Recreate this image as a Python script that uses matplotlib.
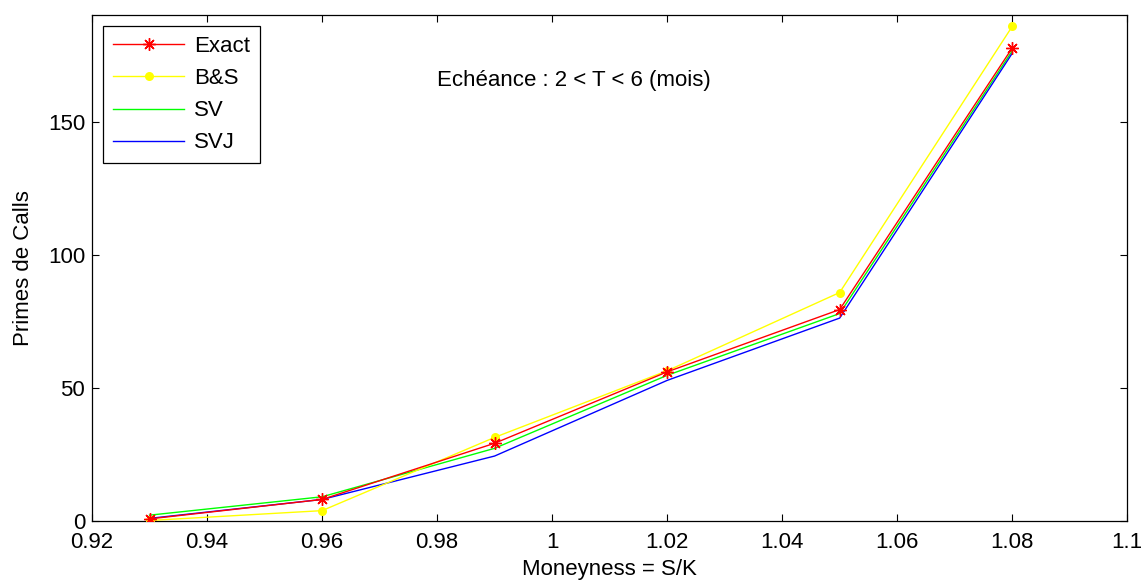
import matplotlib.pyplot as plt
import numpy as np

plt.rcParams['font.family'] = ['Liberation Sans', 'DejaVu Sans']

moneyness = [0.93, 0.96, 0.99, 1.02, 1.05, 1.08]
exact = [0.8, 8.1, 29.2, 56.0, 79.4, 177.6]
bs = [0.2, 3.9, 31.4, 56.4, 85.8, 185.7]
sv = [2.2, 9.1, 27.3, 54.7, 77.9, 176.5]
svj = [1.0, 8.1, 24.4, 52.8, 76.2, 175.6]

fig = plt.figure(figsize=(11.43, 5.83), dpi=100)
ax = fig.add_axes([0.0805, 0.1063, 0.9057, 0.868])

ax.plot(moneyness, exact, color=(1, 0, 0), lw=1, marker=(8, 2, 0),
        markersize=9, markeredgewidth=1, label='Exact', zorder=4)
ax.plot(moneyness, bs, color=(1, 1, 0), lw=1, marker='o', markersize=6.5,
        markeredgewidth=0, label='B&S', zorder=3)
ax.plot(moneyness, sv, color=(0, 1, 0), lw=1, label='SV', zorder=2)
ax.plot(moneyness, svj, color=(0, 0, 1), lw=1, label='SVJ', zorder=2)

ax.set_xlim(0.92, 1.1)
ax.set_ylim(0, 190)
ax.set_xticks(np.arange(0.92, 1.1001, 0.02))
ax.set_xticklabels(['0.92', '0.94', '0.96', '0.98', '1', '1.02', '1.04',
                    '1.06', '1.08', '1.1'])
ax.set_yticks([0, 50, 100, 150])
ax.tick_params(direction='in', length=5, width=0.8, top=True, right=True,
               labelsize=16, pad=5)
ax.tick_params(axis='x', pad=8)
for sp in ax.spines.values():
    sp.set_linewidth(0.9)

ax.set_xlabel('Moneyness = S/K', fontsize=16, labelpad=4)
ax.set_ylabel('Primes de Calls', fontsize=16, labelpad=10)

ax.text(0.98, 165.4, 'Echéance : 2 < T < 6 (mois)', fontsize=16,
        va='center', ha='left')

leg = ax.legend(loc='upper left', fontsize=16, handlelength=3.2,
                handletextpad=0.45, labelspacing=0.5, borderpad=0.45,
                borderaxespad=0.5, fancybox=False, framealpha=1,
                edgecolor='black')
leg.get_frame().set_linewidth(0.9)

fig.savefig('out.png', dpi=100)
